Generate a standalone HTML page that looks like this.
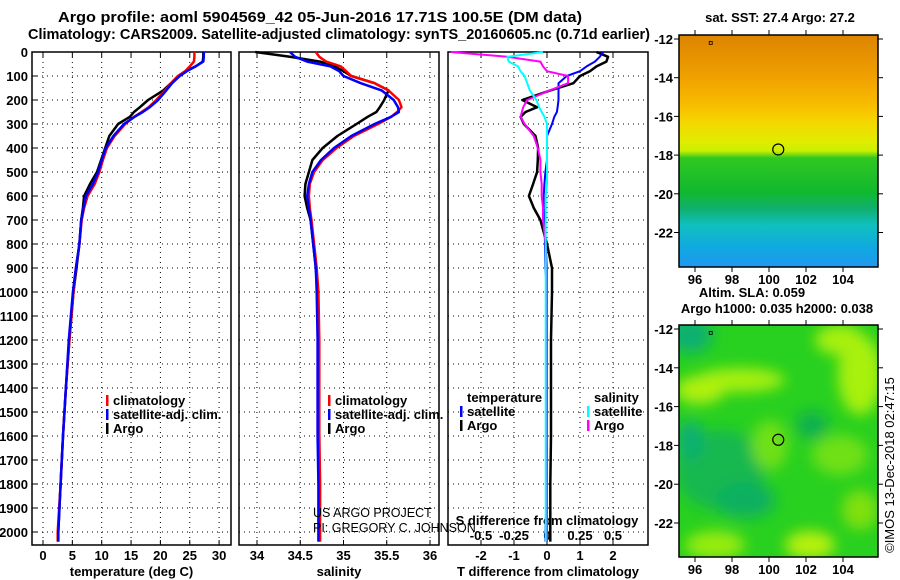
<!DOCTYPE html>
<html><head><meta charset="utf-8"><style>
body{margin:0;background:#fff}
svg{display:block;font-family:"Liberation Sans",sans-serif}
.b{font-weight:bold;font-size:14px}
.t{font-weight:bold;font-size:13px}
</style></head><body>
<svg id="s" width="900" height="580" viewBox="0 0 900 580">
<defs>
<linearGradient id="sst" x1="0" y1="0" x2="0" y2="1">
<stop offset="0" stop-color="#dc8400"/><stop offset="0.18" stop-color="#f0a000"/><stop offset="0.3" stop-color="#f8bc00"/><stop offset="0.38" stop-color="#f4d800"/><stop offset="0.46" stop-color="#e0ec00"/><stop offset="0.5" stop-color="#c8f000"/><stop offset="0.53" stop-color="#30c820"/><stop offset="0.68" stop-color="#10b830"/><stop offset="0.75" stop-color="#10b070"/><stop offset="0.82" stop-color="#10c0c0"/><stop offset="0.92" stop-color="#10a8e0"/><stop offset="1" stop-color="#2098f0"/>
</linearGradient>
<clipPath id="c2"><rect x="679" y="325" width="199" height="232"/></clipPath>
<filter id="bl"><feGaussianBlur stdDeviation="7"/></filter>
</defs>
<text x="58" y="22" font-weight="bold" font-size="15" textLength="524" lengthAdjust="spacingAndGlyphs">Argo profile: aoml 5904569_42 05-Jun-2016 17.71S 100.5E (DM data)</text>
<text x="28" y="39" font-weight="bold" font-size="15" textLength="622" lengthAdjust="spacingAndGlyphs">Climatology: CARS2009. Satellite-adjusted climatology: synTS_20160605.nc (0.71d earlier)</text>
<g id="p1"></g>
<g id="p2"></g>
<g id="p3"></g>
<g id="m1">
<text x="780" y="22" class="t" text-anchor="middle">sat. SST: 27.4 Argo: 27.2</text>
<rect x="679" y="35" width="199" height="232" fill="url(#sst)"/>
</g>
<g id="m2">
<text x="752" y="297" class="t" text-anchor="middle">Altim. SLA: 0.059</text>
<text x="777" y="313" class="t" text-anchor="middle">Argo h1000: 0.035 h2000: 0.038</text>
<rect x="679" y="325" width="199" height="232" fill="#28d020"/>
<g clip-path="url(#c2)" filter="url(#bl)">
<ellipse cx="690" cy="335" rx="22" ry="18" fill="#10b070"/>
<ellipse cx="740" cy="380" rx="45" ry="12" fill="#a8f010"/>
<ellipse cx="700" cy="390" rx="25" ry="14" fill="#b0f010"/>
<ellipse cx="860" cy="375" rx="22" ry="40" fill="#a8f010"/>
<ellipse cx="840" cy="340" rx="25" ry="15" fill="#a8f010"/>
<ellipse cx="720" cy="470" rx="45" ry="40" fill="#18b850"/>
<ellipse cx="690" cy="440" rx="14" ry="20" fill="#10b070"/>
<ellipse cx="745" cy="500" rx="30" ry="18" fill="#10b060"/>
<ellipse cx="812" cy="425" rx="16" ry="14" fill="#10b050"/>
<ellipse cx="770" cy="445" rx="18" ry="25" fill="#70e018"/>
<ellipse cx="840" cy="455" rx="28" ry="20" fill="#70e018"/>
<ellipse cx="810" cy="545" rx="25" ry="14" fill="#b8f010"/>
<ellipse cx="715" cy="545" rx="30" ry="14" fill="#98ec10"/>
<ellipse cx="860" cy="510" rx="18" ry="20" fill="#80e010"/>
</g>
</g>
<text transform="translate(894,465) rotate(-90)" font-size="13" text-anchor="middle">©IMOS 13-Dec-2018 02:47:15</text>
<text x="313" y="517" font-size="12.5">US ARGO PROJECT</text>
<text x="313" y="532" font-size="12.5">PI: GREGORY C. JOHNSON</text>
</svg>
<script>
// depth levels shared by profile series
const depths=[0,20,40,60,80,100,130,160,200,230,250,270,300,350,400,450,500,550,600,650,700,800,900,1000,1200,1400,1600,1800,2000,2040];
const tempClim=[25.8,25.8,25.7,25.0,24.2,23.0,21.8,20.8,19.3,18.0,16.8,15.5,14.0,12.2,10.9,10.2,9.6,8.8,7.6,7.0,6.6,6.2,5.6,5.2,4.5,3.9,3.4,3.0,2.5,2.5];
const tempSat=[27.4,27.4,27.3,26.0,24.5,23.3,22.0,21.0,19.6,18.2,17.0,15.6,13.8,12.0,10.7,10.0,9.4,8.5,7.3,6.9,6.5,6.2,5.6,5.1,4.4,3.9,3.4,3.0,2.6,2.6];
const tempArgo=[27.3,27.3,27.2,26.0,24.3,23.0,21.8,20.5,17.9,16.5,15.5,14.8,12.8,11.3,10.6,9.9,9.2,8.0,7.0,6.8,6.5,6.2,5.7,5.2,4.5,3.9,3.4,3.0,2.6,2.6];
const salClim=[34.68,34.72,34.80,34.97,35.03,35.09,35.36,35.52,35.64,35.67,35.62,35.55,35.40,35.12,34.92,34.76,34.66,34.61,34.60,34.61,34.63,34.66,34.69,34.71,34.72,34.72,34.72,34.73,34.73,34.73];
const salSat=[34.38,34.44,34.58,34.85,34.95,35.00,35.20,35.44,35.58,35.63,35.64,35.55,35.36,35.09,34.89,34.74,34.64,34.60,34.58,34.60,34.62,34.65,34.68,34.69,34.70,34.70,34.70,34.71,34.71,34.71];
const salArgo=[33.98,34.38,34.73,34.90,35.00,35.09,35.36,35.52,35.47,35.42,35.38,35.28,35.15,34.93,34.76,34.64,34.60,34.56,34.55,34.58,34.62,34.65,34.68,34.70,34.71,34.71,34.72,34.72,34.72,34.72];
const dTsat=[1.7,1.6,1.45,1.2,1.0,0.6,0.35,0.35,0.35,0.32,0.3,0.22,0.15,0.0,0.0,0.0,-0.05,-0.08,-0.1,-0.1,-0.08,-0.06,-0.05,0.0,0.0,0.0,0.0,0.0,-0.05,-0.05];
const dTargo=[1.5,1.85,1.8,1.5,1.3,1.0,0.8,0.1,-0.75,-0.3,-0.65,-0.8,-0.7,-0.35,-0.27,-0.28,-0.3,-0.42,-0.55,-0.4,-0.2,0.0,0.15,0.15,0.12,0.12,0.12,0.1,0.1,0.1];
const dSsat=[-0.03,-0.3,-0.29,-0.22,-0.2,-0.17,-0.15,-0.13,-0.08,-0.06,-0.04,-0.02,0.0,0.0,0.0,0.0,0.0,0.0,-0.01,-0.01,-0.01,-0.01,-0.01,-0.01,-0.01,-0.01,-0.01,-0.01,-0.01,-0.01];
const dSargo=[-0.73,-0.3,-0.05,-0.03,0.0,0.16,0.16,0.02,-0.15,-0.18,-0.19,-0.2,-0.17,-0.1,-0.07,-0.05,-0.05,-0.04,-0.04,-0.03,-0.03,-0.01,0.0,0.0,0.0,0.0,0.0,0.0,0.0,0.0];
const depthTicks=[0,100,200,300,400,500,600,700,800,900,1000,1100,1200,1300,1400,1500,1600,1700,1800,1900,2000];
const tempTicks=[0,5,10,15,20,25,30];
const salTicks=[34,34.5,35,35.5,36];
const dTTicks=[-2,-1,0,1,2];
const dSTicks=[-0.5,-0.25,0,0.25,0.5];
const dSLabels=["-0.5","-0.25","0","0.25","0.5"];
const latTicks=[-12,-14,-16,-18,-20,-22];
const lonTicks=[96,98,100,102,104];
const floatLon=100.5, floatLat=-17.71;

const NS='http://www.w3.org/2000/svg';
function el(parent,tag,attrs,txt){const e=document.createElementNS(NS,tag);for(const k in attrs)e.setAttribute(k,attrs[k]);if(txt!==undefined)e.textContent=txt;parent.appendChild(e);return e;}
const yD=d=>52+d*0.24;
const xT=t=>43+t*5.87;
const xS=s=>257+(s-34)*86.5;
const xdT=v=>547+v*33;
const xdS=v=>547+v*132;
const xLon=l=>695+(l-96)*18.5;
const yLat1=l=>39+(-12-l)*19.35;
const yLat2=l=>329+(-12-l)*19.4;

function panel(g,x0,x1,xf,ticks,labels,xlabel,ty){
  depthTicks.forEach(d=>{if(d>0){const ln=el(g,'line',{x1:x0,x2:x1,y1:yD(d),y2:yD(d),stroke:'#000','stroke-dasharray':'1 4','stroke-width':1});
  }});
  ticks.forEach((t,i)=>{const x=xf(t);const ln=el(g,'line',{x1:x,x2:x,y1:52,y2:545,stroke:'#000','stroke-dasharray':'1 4','stroke-width':1});
   
   el(g,'line',{x1:x,x2:x,y1:545,y2:540,stroke:'#000'});el(g,'line',{x1:x,x2:x,y1:52,y2:57,stroke:'#000'});
   const tx=el(g,'text',{x:x,y:ty,'text-anchor':'middle',class:'t'},labels[i]);
   });
  const r=el(g,'rect',{x:x0,y:52,width:x1-x0,height:493,fill:'none',stroke:'#000','stroke-width':1.5});
  
  if(xlabel){const t=el(g,'text',{x:(x0+x1)/2,y:576,'text-anchor':'middle',class:'t'},xlabel);
  }
}
function line(g,xs,xf,color,w,name){
  let p='';depths.forEach((d,i)=>{p+=(i?'L':'M')+xf(xs[i]).toFixed(1)+','+yD(d).toFixed(1);});
  const e=el(g,'path',{d:p,fill:'none',stroke:color,'stroke-width':w,'stroke-linejoin':'round'});
  
}
function legend(g,x,y,items){items.forEach((it,i)=>{el(g,'rect',{x:x,y:y+i*14-10,width:2.5,height:11,fill:it[1]});
  const t=el(g,'text',{x:x+7,y:y+i*14,class:'t'},it[0]);});}

const p1=document.getElementById('p1'),p2=document.getElementById('p2'),p3=document.getElementById('p3');
panel(p1,32,231,xT,tempTicks,tempTicks.map(String),'temperature (deg C)',560);
depthTicks.forEach(d=>{const t=el(p1,'text',{x:28,y:yD(d)+5,'text-anchor':'end',class:'t'},String(d));
 
 el(p1,'line',{x1:32,x2:37,y1:yD(d),y2:yD(d),stroke:'#000'});});
line(p1,tempArgo,xT,'#000',2.5,'temp-argo-line');
line(p1,tempClim,xT,'#f00',2.5,'temp-climatology-line');
line(p1,tempSat,xT,'#00f',2.5,'temp-satellite-line');
legend(p1,106,405,[['climatology','#f00'],['satellite-adj. clim.','#00f'],['Argo','#000']]);

panel(p2,239,439,xS,salTicks,['34','34.5','35','35.5','36'],'salinity',560);
line(p2,salArgo,xS,'#000',2.5,'sal-argo-line');
line(p2,salClim,xS,'#f00',2.5,'sal-climatology-line');
line(p2,salSat,xS,'#00f',2.5,'sal-satellite-line');
legend(p2,328,405,[['climatology','#f00'],['satellite-adj. clim.','#00f'],['Argo','#000']]);

panel(p3,448,648,xdT,dTTicks,dTTicks.map(String),'T difference from climatology',560);
dSTicks.forEach((t,i)=>{const tx=el(p3,'text',{x:xdS(t),y:540,'text-anchor':'middle',class:'t'},dSLabels[i]);
 });
const st=el(p3,'text',{x:547,y:525,'text-anchor':'middle',class:'t'},'S difference from climatology');

line(p3,dTargo,xdT,'#000',2.5,'dT-argo-line');
line(p3,dTsat,xdT,'#00f',2,'dT-satellite-line');
line(p3,dSargo,xdS,'#f0f',2,'dS-argo-line');
line(p3,dSsat,xdS,'#0ff',2,'dS-satellite-line');
const lt=el(p3,'text',{x:467,y:402,class:'t'},'temperature');
const ls=el(p3,'text',{x:594,y:402,class:'t'},'salinity');
legend(p3,460,416,[['satellite','#00f'],['Argo','#000']]);
legend(p3,587,416,[['satellite','#0ff'],['Argo','#f0f']]);

function mapAxes(g,yLat,y0,y1){
  const fr=el(g,'rect',{x:679,y:y0,width:199,height:y1-y0,fill:'none',stroke:'#000','stroke-width':1.5});
  
  latTicks.forEach(l=>{const y=yLat(l);el(g,'line',{x1:674,x2:679,y1:y,y2:y,stroke:'#000'});el(g,'line',{x1:878,x2:883,y1:y,y2:y,stroke:'#000'});
   const t=el(g,'text',{x:673,y:y+5,'text-anchor':'end',class:'t'},String(l));});
  lonTicks.forEach(l=>{const x=xLon(l);el(g,'line',{x1:x,x2:x,y1:y1,y2:y1+5,stroke:'#000'});el(g,'line',{x1:x,x2:x,y1:y0-5,y2:y0,stroke:'#000'});
   const t=el(g,'text',{x:x,y:y1+17,'text-anchor':'middle',class:'t'},String(l));});
  const c=el(g,'circle',{cx:xLon(floatLon),cy:yLat(floatLat),r:5.5,fill:'none',stroke:'#000','stroke-width':1.2});
  
  el(g,'rect',{x:xLon(96.85)-1.5,y:yLat(-12.2)-1.5,width:3,height:3,fill:'none',stroke:'#000','stroke-width':0.8});
}
mapAxes(document.getElementById('m1'),yLat1,35,267);
mapAxes(document.getElementById('m2'),yLat2,325,557);
</script>
</body></html>
